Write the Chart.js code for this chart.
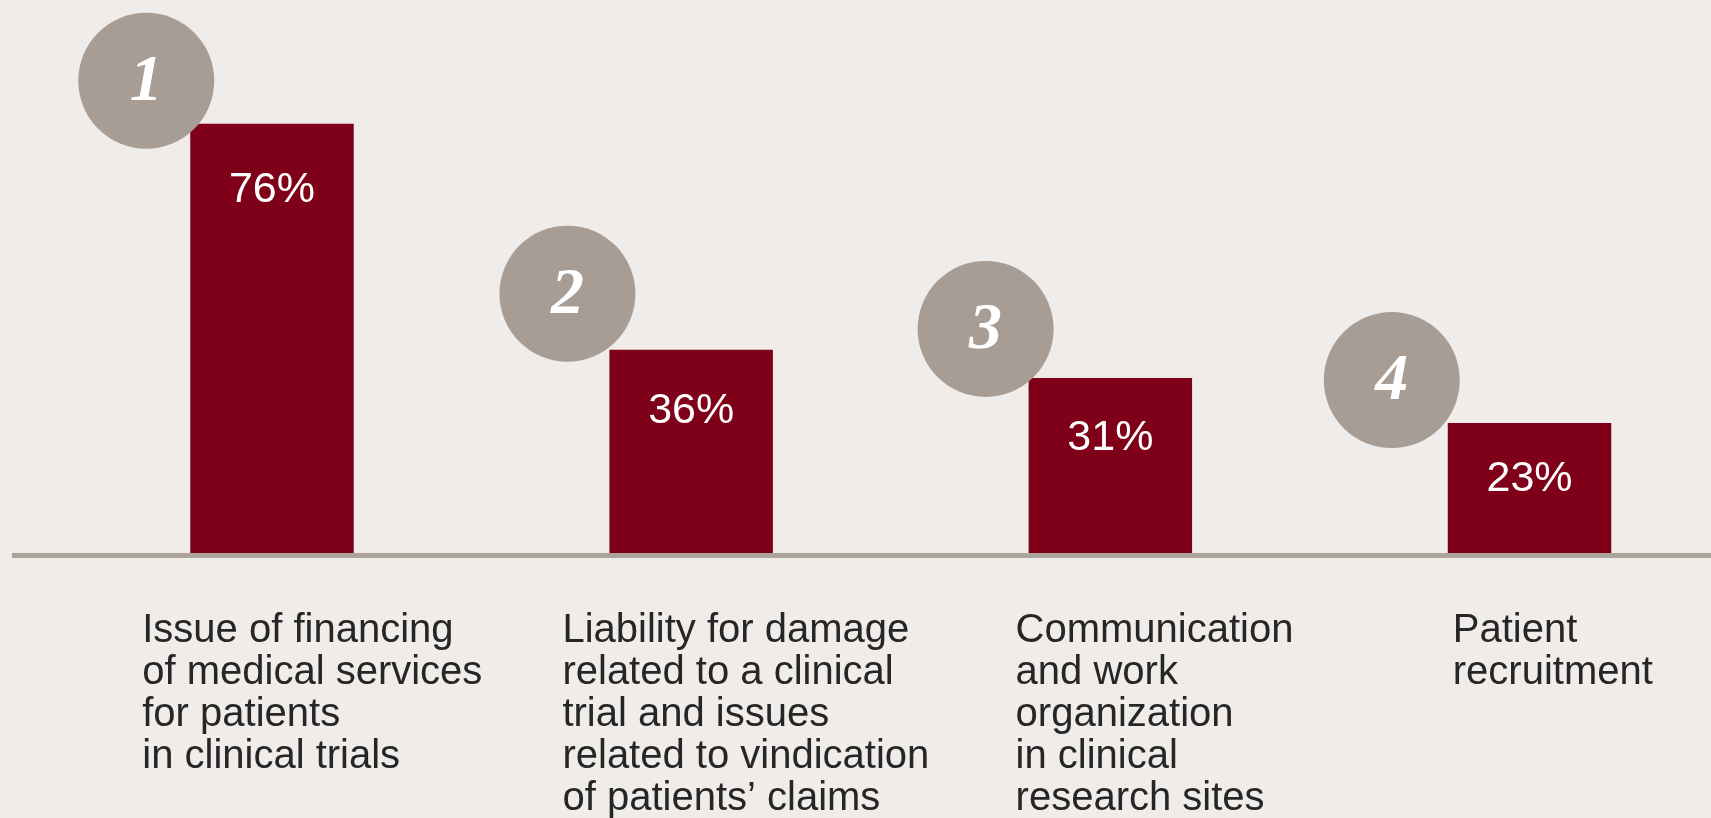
<!DOCTYPE html>
<html>
<head>
<meta charset="utf-8">
<script src="https://cdn.jsdelivr.net/npm/chart.js@4"></script>
<style>
  html, body { margin: 0; padding: 0; background: #efece9; overflow: hidden; }
  #wrap { width: 1760px; height: 818px; }
</style>
</head>
<body>
<div id="wrap"><canvas id="chartCanvas" width="1760" height="818"></canvas></div>
<script>
const categories = [
  ['Issue of financing', 'of medical services', 'for patients', 'in clinical trials'],
  ['Liability for damage', 'related to a clinical', 'trial and issues', 'related to vindication', 'of patients\u2019 claims'],
  ['Communication', 'and work', 'organization', 'in clinical', 'research sites'],
  ['Patient', 'recruitment']
];
const values = [76, 36, 31, 23];
const ranks = ['1', '2', '3', '4'];

// layout tweaks per bar (badge offset from bar top-left, label offset from bar left)
const badgeOffset = [[-44, -43], [-42, -56], [-43, -49], [-56, -43]];
const valueOffset = [66, 61, 60, 56];
const labelOffset = [-48, -47, -13, 5];

const overlay = {
  id: 'overlay',
  beforeDatasetsDraw(chart) {
    const ctx = chart.ctx;
    ctx.save();
    ctx.strokeStyle = '#aca39b';
    ctx.lineWidth = 5;
    ctx.beginPath();
    ctx.moveTo(12, 555.5);
    ctx.lineTo(chart.width, 555.5);
    ctx.stroke();
    ctx.restore();
  },
  afterDatasetsDraw(chart) {
    const ctx = chart.ctx;
    const bars = chart.getDatasetMeta(0).data;
    ctx.save();
    bars.forEach((bar, i) => {
      const left = bar.x - bar.width / 2;
      const top = bar.y;

      // rank badge
      const cx = left + badgeOffset[i][0];
      const cy = top + badgeOffset[i][1];
      ctx.fillStyle = '#a89d94';
      ctx.beginPath();
      ctx.arc(cx, cy, 68, 0, Math.PI * 2);
      ctx.fill();
      ctx.fillStyle = '#ffffff';
      ctx.font = 'italic bold 66px "Liberation Serif", serif';
      ctx.textAlign = 'center';
      ctx.textBaseline = 'middle';
      ctx.fillText(ranks[i], cx, cy + 2);

      // value inside bar
      ctx.font = '43px "Liberation Sans", Arial, sans-serif';
      ctx.fillText(values[i] + '%', bar.x, top + valueOffset[i]);

      // category label below axis
      ctx.fillStyle = '#262626';
      ctx.font = '40px "Liberation Sans", Arial, sans-serif';
      ctx.textAlign = 'left';
      ctx.textBaseline = 'alphabetic';
      categories[i].forEach((line, j) => {
        ctx.fillText(line, left + labelOffset[i], 642 + j * 42);
      });
    });
    ctx.restore();
  }
};

new Chart(document.getElementById('chartCanvas').getContext('2d'), {
  type: 'bar',
  data: {
    labels: categories.map(c => c.join(' ')),
    datasets: [{
      data: values,
      backgroundColor: '#7e0019',
      borderWidth: 0,
      barPercentage: 0.39,
      categoryPercentage: 1
    }]
  },
  options: {
    responsive: false,
    animation: false,
    layout: { padding: { left: 62.4, right: 20.9, top: 21, bottom: 265 } },
    plugins: {
      legend: { display: false },
      tooltip: { enabled: false }
    },
    scales: {
      x: { display: false },
      y: { display: false, min: 0, max: 94.2 }
    }
  },
  plugins: [overlay]
});
</script>
</body>
</html>
